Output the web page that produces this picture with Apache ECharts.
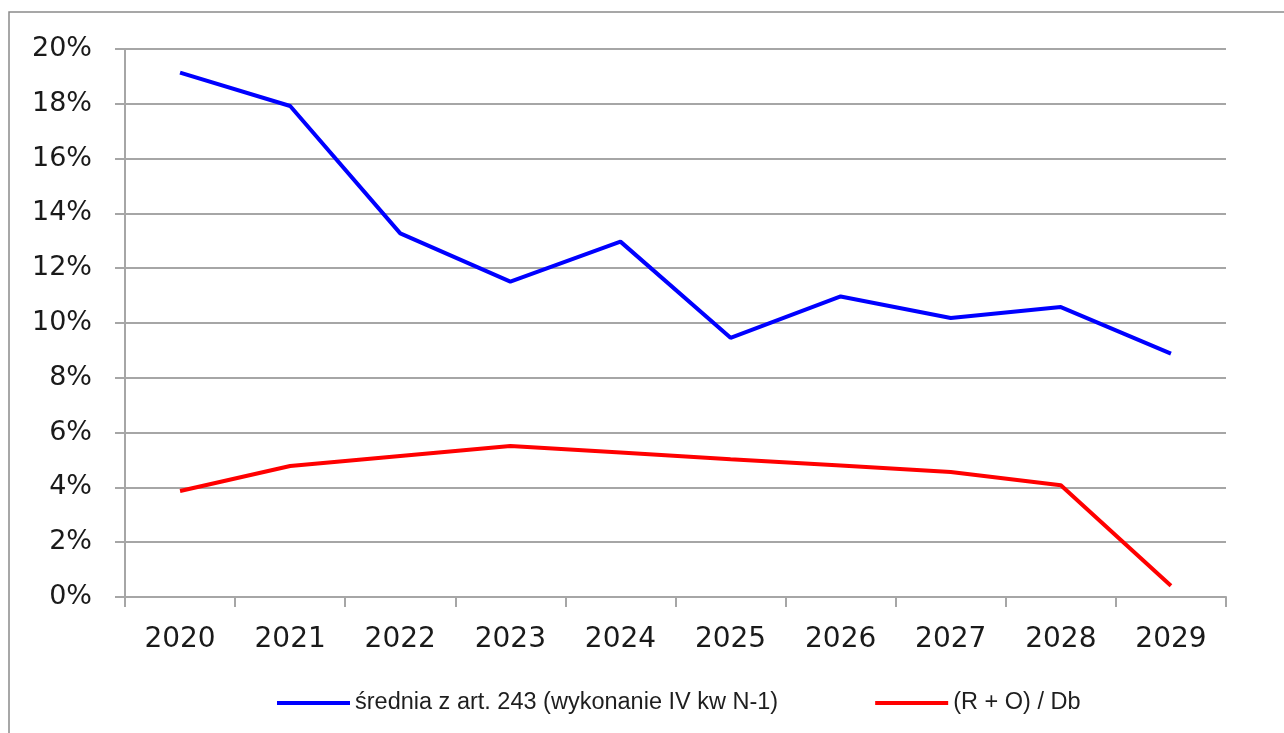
<!DOCTYPE html>
<html>
<head>
<meta charset="utf-8">
<script src="https://cdn.jsdelivr.net/npm/echarts@6/dist/echarts.min.js"></script>
<style>
html,body{margin:0;padding:0;background:#fff;}
#chart{width:1284px;height:733px;}
</style>
</head>
<body>
<div id="chart"></div>
<script>
const years = ['2020','2021','2022','2023','2024','2025','2026','2027','2028','2029'];
const seriesNames = ['średnia z art. 243 (wykonanie IV kw N-1)', '(R + O) / Db'];
const sredniaValues = [19.14, 17.92, 13.27, 11.51, 12.97, 9.46, 10.97, 10.18, 10.58, 8.88];
const roDbValues = [3.87, 4.78, 5.15, 5.51, 5.27, 5.03, 4.80, 4.56, 4.08, 0.41];
const yTicks = {min: 0, max: 20, interval: 2};

const gray = '#a6a6a6';
const chart = echarts.init(document.getElementById('chart'), null, {renderer: 'canvas'});
chart.setOption({
  animation: false,
  backgroundColor: '#ffffff',
  graphic: [{
    type: 'rect',
    shape: {x: 9, y: 12, width: 1400, height: 900},
    style: {fill: 'none', stroke: '#8a8a8a', lineWidth: 1.5},
    silent: true
  }],
  grid: {left: 125, right: 58, top: 49, bottom: 136, containLabel: false},
  xAxis: {
    type: 'category',
    data: years,
    boundaryGap: true,
    axisLine: {show: true, lineStyle: {color: gray, width: 2}},
    axisTick: {show: true, length: 10, lineStyle: {color: gray, width: 2}},
    axisLabel: {color: '#1a1a1a', fontFamily: 'DejaVu Sans', fontSize: 28, margin: 29},
    splitLine: {show: false}
  },
  yAxis: {
    type: 'value',
    min: yTicks.min, max: yTicks.max, interval: yTicks.interval,
    axisLine: {show: true, lineStyle: {color: gray, width: 2}},
    axisTick: {show: true, length: 10, lineStyle: {color: gray, width: 2}},
    axisLabel: {color: '#1a1a1a', fontFamily: 'DejaVu Sans', fontSize: 27, margin: 33, formatter: '{value}%'},
    splitLine: {show: true, lineStyle: {color: gray, width: 2}}
  },
  legend: {
    left: 277, top: 691, padding: 0,
    icon: 'rect',
    itemWidth: 73, itemHeight: 4, itemGap: 97,
    textStyle: {color: '#1e1e1e', fontFamily: 'Liberation Sans', fontSize: 23.5},
    data: seriesNames
  },
  series: [
    {name: seriesNames[0], type: 'line', data: sredniaValues, symbol: 'none', lineStyle: {color: '#0000ff', width: 4}, itemStyle: {color: '#0000ff'}},
    {name: seriesNames[1], type: 'line', data: roDbValues, symbol: 'none', lineStyle: {color: '#ff0000', width: 4}, itemStyle: {color: '#ff0000'}}
  ]
});
</script>
</body>
</html>
